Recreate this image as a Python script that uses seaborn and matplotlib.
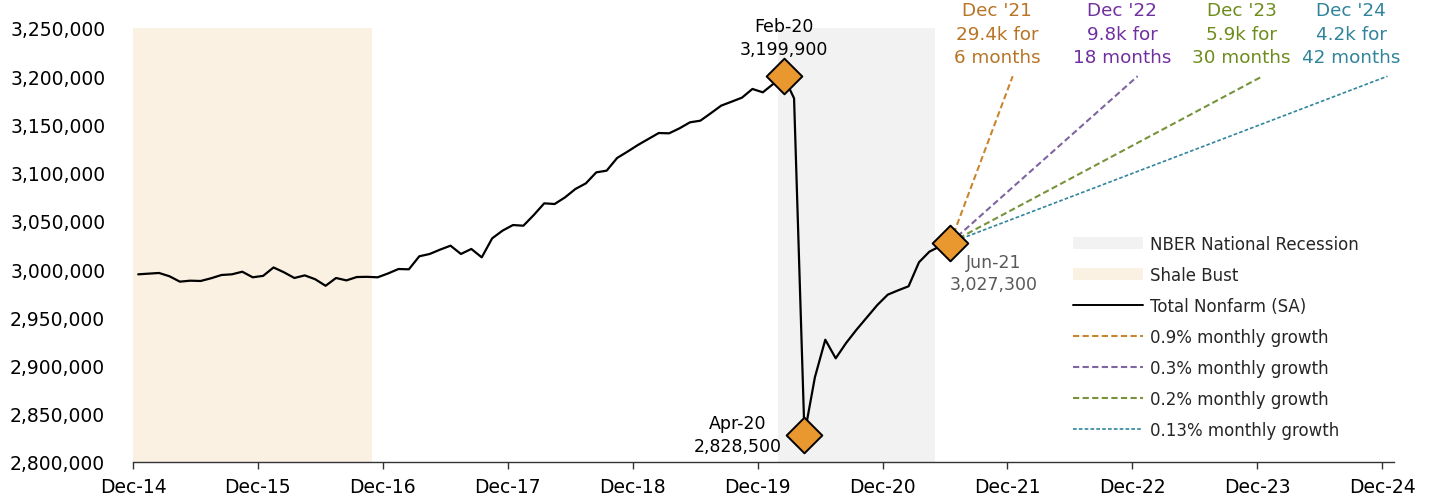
import numpy as np
import pandas as pd
import matplotlib
matplotlib.use("Agg")
import matplotlib.pyplot as plt
import seaborn as sns
from matplotlib.patches import Patch
from matplotlib.lines import Line2D
from matplotlib.ticker import FuncFormatter, FixedLocator

# ---------------- data ----------------
# Monthly Total Nonfarm (SA), Dec-14 .. Jun-21
nonfarm = [
    2994600, 2995300, 2996000, 2992600, 2987000, 2988000, 2987700, 2990500,
    2993900, 2994600, 2997300, 2991500, 2993000, 3001700, 2996700, 2990800,
    2993500, 2989500, 2982700, 2990800, 2988300, 2991800, 2992000, 2991500,
    2995500, 3000100, 2999800, 3013300, 3015700, 3020200, 3024300, 3015700,
    3020900, 3012200, 3031900, 3039900, 3045700, 3045000, 3056100, 3068200,
    3067500, 3074400, 3083100, 3088900, 3100300, 3102100, 3115200, 3121800,
    3128700, 3134900, 3141100, 3140800, 3146000, 3152200, 3153900, 3161600,
    3169500, 3173600, 3177800, 3186800, 3183300, 3192000, 3199900, 3177100,
    2828500, 2887800, 2926800, 2907500, 2923400, 2937200, 2950000, 2962800,
    2973500, 2978000, 2982200, 3007100, 3018100, 3023600, 3027300,
]
x_tick_labels = ["Dec-14", "Dec-15", "Dec-16", "Dec-17", "Dec-18", "Dec-19",
                 "Dec-20", "Dec-21", "Dec-22", "Dec-23", "Dec-24"]
y_ticks = [2800000, 2850000, 2900000, 2950000, 3000000, 3050000,
           3100000, 3150000, 3200000, 3250000]

# highlighted points (label, month index)
point_labels = ["Feb-20", "Apr-20", "Jun-21"]
point_index = [62, 64, 78]

# shaded periods (first month index, last month index)
shale_span = (0, 22)
recession_span = (62, 76)

# growth scenarios from Jun-21
proj_labels = ["0.9% monthly growth", "0.3% monthly growth",
               "0.2% monthly growth", "0.13% monthly growth"]
proj_months = [6, 18, 30, 42]
proj_end_values = [3200000, 3200000, 3200000, 3200000]
proj_titles = ["Dec '21\n29.4k for\n6 months", "Dec '22\n9.8k for\n18 months",
               "Dec '23\n5.9k for\n30 months", "Dec '24\n4.2k for\n42 months"]

# ---------------- styles ----------------
proj_line_colors = ["#C8862E", "#8064A2", "#77933C", "#31859C"]
proj_text_colors = ["#B87425", "#7030A0", "#6E8C1C", "#31849B"]
proj_dashes = [(3, 1.6), (3, 1.6), (3, 1.6), (2.2, 1.3)]
proj_lw = [1.5, 1.5, 1.5, 1.2]

sns.set_theme(style="white")
plt.rcParams["font.family"] = ["DejaVu Sans"]

fig = plt.figure(figsize=(14.39, 5.02), dpi=100)
ax = fig.add_axes([133 / 1439, 39 / 502, 1260.7 / 1439, 434 / 502])

# shaded regions
ax.axvspan(shale_span[0] - 0.5, shale_span[1] + 0.5, color="#FBF1E3", lw=0, zorder=0)
ax.axvspan(recession_span[0] - 0.5, recession_span[1] + 0.5, color="#F2F2F2", lw=0, zorder=0)

# main series
df = pd.DataFrame({"month": np.arange(len(nonfarm)), "value": nonfarm})
sns.lineplot(data=df, x="month", y="value", ax=ax, color="black", lw=1.6, zorder=3)

# projections
start_i = point_index[2]
start_v = nonfarm[start_i]
for lab, m, ev, c, d, lw in zip(proj_labels, proj_months, proj_end_values,
                                proj_line_colors, proj_dashes, proj_lw):
    pdf = pd.DataFrame({"month": [start_i, start_i + m], "value": [start_v, ev]})
    sns.lineplot(data=pdf, x="month", y="value", ax=ax, color=c, lw=lw,
                 dashes=False, zorder=2).lines[-1].set_dashes(d)

# markers
mdf = pd.DataFrame({"month": point_index, "value": [nonfarm[i] for i in point_index]})
sns.scatterplot(data=mdf, x="month", y="value", ax=ax, marker="D", s=330,
                color="#E8982E", edgecolor="black", linewidth=1.4, zorder=5)

# point annotations
offsets = [(0, 28), (-48, 0), (31, -21.5)]
tcolors = ["black", "black", "#595959"]
for lab, i, off, tc in zip(point_labels, point_index, offsets, tcolors):
    ax.annotate(f"{lab}\n{nonfarm[i]:,}", (i, nonfarm[i]), xytext=off,
                textcoords="offset points", ha="center", va="center",
                fontsize=12.5, color=tc, linespacing=1.3, zorder=6)

# projection titles
title_x = [82.5, 94.5, 106.0, 116.5]
for t, tx, c in zip(proj_titles, title_x, proj_text_colors):
    ax.text(tx, 3244000, t, ha="center", va="center", fontsize=13.2,
            color=c, linespacing=1.4, clip_on=False)

# axes
ax.set_xlim(-0.5, 120.6)
ax.set_ylim(2800000, 3250000)
ax.xaxis.set_major_locator(FixedLocator([-0.5 + 12 * k for k in range(len(x_tick_labels))]))
ax.set_xticklabels(x_tick_labels)
ax.set_yticks(y_ticks)
ax.yaxis.set_major_formatter(FuncFormatter(lambda v, p: f"{int(v):,}"))
ax.set_xlabel("")
ax.set_ylabel("")
for s in ["top", "right", "left"]:
    ax.spines[s].set_visible(False)
ax.spines["bottom"].set_color("#333333")
ax.spines["bottom"].set_linewidth(1.0)
ax.tick_params(axis="x", bottom=True, length=5, width=1, color="#333333",
               labelsize=13.5, pad=6, labelcolor="black")
ax.tick_params(axis="y", left=False, length=0, labelsize=13.5, pad=20, labelcolor="black")
ax.grid(False)

# legend
handles = [
    Patch(facecolor="#F2F2F2", edgecolor="none"),
    Patch(facecolor="#FBF1E3", edgecolor="none"),
    Line2D([], [], color="black", lw=1.4),
]
for c, d, lw in zip(proj_line_colors, proj_dashes, proj_lw):
    h = Line2D([], [], color=c, lw=lw)
    h.set_dashes(d)
    handles.append(h)
labels = ["NBER National Recession", "Shale Bust", "Total Nonfarm (SA)"] + proj_labels
leg = ax.legend(handles, labels, loc="upper left",
                bbox_to_anchor=(1073 / 1439, 1 - 236 / 502), bbox_transform=fig.transFigure,
                frameon=False, fontsize=12, handlelength=4.2, handletextpad=0.4,
                labelspacing=0.78, borderpad=0, borderaxespad=0)

fig.savefig("out.png", dpi=100)
